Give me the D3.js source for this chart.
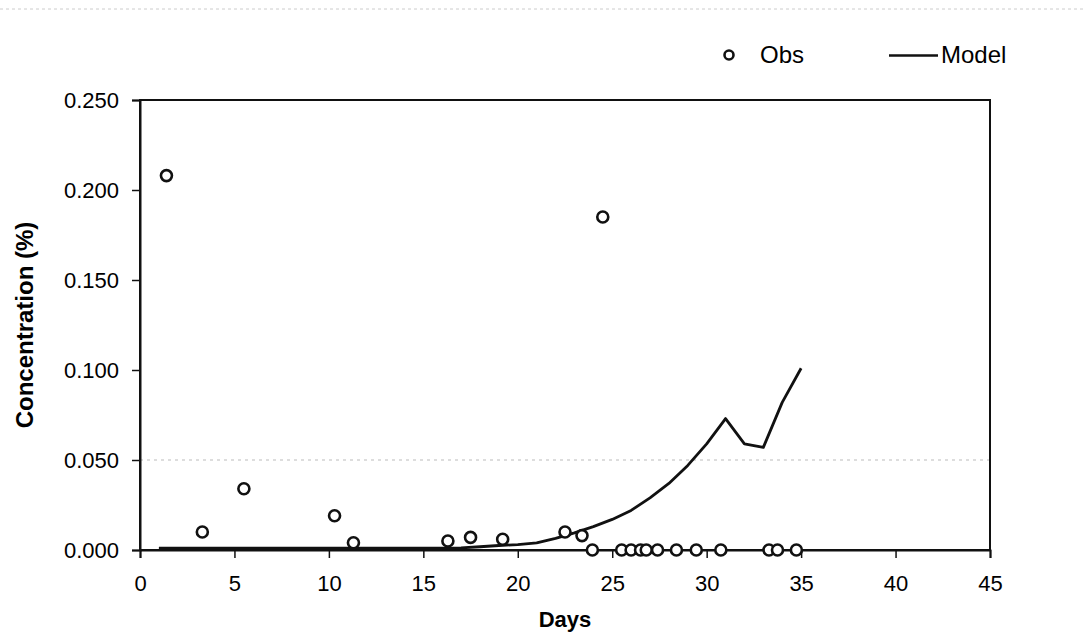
<!DOCTYPE html>
<html>
<head>
<meta charset="utf-8">
<script src="https://cdn.jsdelivr.net/npm/d3@7"></script>
<style>
  body { margin: 0; background: #fff; }
  svg text { font-family: Arial, "Liberation Sans", sans-serif; fill: #000; }
</style>
</head>
<body>
<div id="chart"></div>
<script>
// observed points (day, concentration %)
const obsDays = [1.4, 3.3, 5.5, 10.3, 11.3, 16.3, 17.5, 19.2, 22.5, 23.4, 24.5,
  23.95, 25.5, 26.0, 26.5, 26.8, 27.4, 28.4, 29.45, 30.75, 33.3, 33.75, 34.75];
const obsConc = [0.208, 0.010, 0.034, 0.019, 0.004, 0.005, 0.007, 0.006, 0.010, 0.008, 0.185,
  0, 0, 0, 0, 0, 0, 0, 0, 0, 0, 0, 0];

// model output, one value per day
const modelDays = [1, 2, 3, 4, 5, 6, 7, 8, 9, 10, 11, 12, 13, 14, 15, 16, 17, 18,
  19, 20, 21, 22, 23, 24, 25, 26, 27, 28, 29, 30, 31, 32, 33, 34, 35];
const modelConc = [0.001, 0.001, 0.001, 0.001, 0.001, 0.001, 0.001, 0.001, 0.001, 0.001,
  0.001, 0.001, 0.001, 0.001, 0.001, 0.001, 0.0012, 0.0018, 0.0025, 0.003, 0.004,
  0.0065, 0.0095, 0.013, 0.017, 0.022, 0.029, 0.037, 0.047, 0.059, 0.073, 0.059,
  0.057, 0.082, 0.101];

const xTicks = [0, 5, 10, 15, 20, 25, 30, 35, 40, 45];
const yTicks = [0, 0.05, 0.1, 0.15, 0.2, 0.25];

const width = 1084, height = 640;
const margin = {top: 100, right: 94, bottom: 90, left: 140};

const svg = d3.select('#chart').append('svg')
  .attr('width', width)
  .attr('height', height);

const x = d3.scaleLinear().domain([0, 45]).range([margin.left, width - margin.right]);
const y = d3.scaleLinear().domain([0, 0.25]).range([height - margin.bottom, margin.top]);

// faint scan line at the top
svg.append('line')
  .attr('x1', 0).attr('x2', width)
  .attr('y1', 9).attr('y2', 9)
  .attr('stroke', '#ccc')
  .attr('stroke-dasharray', '3,3');

// dotted gridline at 0.05
svg.append('line')
  .attr('x1', x(0)).attr('x2', x(45))
  .attr('y1', y(0.05)).attr('y2', y(0.05))
  .attr('stroke', '#bbb')
  .attr('stroke-dasharray', '3,4');

// plot frame
svg.append('rect')
  .attr('x', x(0)).attr('y', y(0.25))
  .attr('width', x(45) - x(0))
  .attr('height', y(0) - y(0.25))
  .attr('fill', 'none')
  .attr('stroke', '#111')
  .attr('stroke-width', 2);

const xAxis = g => g
  .attr('transform', `translate(0,${y(0)})`)
  .call(d3.axisBottom(x).tickValues(xTicks).tickSize(8).tickPadding(17).tickFormat(d3.format('d')))
  .call(g => g.select('.domain').attr('stroke', '#111').attr('stroke-width', 2))
  .call(g => g.selectAll('.tick line').attr('stroke', '#111').attr('stroke-width', 1.5))
  .call(g => g.selectAll('.tick text').attr('font-size', 22).attr('fill', '#000')
    .attr('font-family', 'Arial, "Liberation Sans", sans-serif'));

const yAxis = g => g
  .attr('transform', `translate(${x(0)},0)`)
  .call(d3.axisLeft(y).tickValues(yTicks).tickSize(8).tickPadding(13).tickFormat(d3.format('.3f')))
  .call(g => g.select('.domain').attr('stroke', '#111').attr('stroke-width', 2))
  .call(g => g.selectAll('.tick line').attr('stroke', '#111').attr('stroke-width', 1.5))
  .call(g => g.selectAll('.tick text').attr('font-size', 22).attr('fill', '#000')
    .attr('font-family', 'Arial, "Liberation Sans", sans-serif'));

svg.append('g').call(xAxis);
svg.append('g').call(yAxis);

// model line
const line = d3.line()
  .x((d, i) => x(modelDays[i]))
  .y(d => y(d));

svg.append('path')
  .datum(modelConc)
  .attr('d', line)
  .attr('fill', 'none')
  .attr('stroke', '#111')
  .attr('stroke-width', 2.8)
  .attr('stroke-linejoin', 'round');

// observations
svg.append('g')
  .selectAll('circle')
  .data(obsConc)
  .enter()
    .append('circle')
    .attr('cx', (d, i) => x(obsDays[i]))
    .attr('cy', d => y(d))
    .attr('r', 5.5)
    .attr('fill', '#fff')
    .attr('stroke', '#111')
    .attr('stroke-width', 2.6);

// axis titles
svg.append('text')
  .attr('x', (x(0) + x(45)) / 2)
  .attr('y', 627)
  .attr('text-anchor', 'middle')
  .attr('font-size', 22)
  .attr('font-weight', 'bold')
  .text('Days');

svg.append('text')
  .attr('transform', 'translate(33,325) rotate(-90)')
  .attr('text-anchor', 'middle')
  .attr('font-size', 24)
  .attr('font-weight', 'bold')
  .text('Concentration (%)');

// legend
const legend = svg.append('g');
legend.append('circle')
  .attr('cx', 729).attr('cy', 55).attr('r', 4.5)
  .attr('fill', '#fff').attr('stroke', '#111').attr('stroke-width', 2.6);
legend.append('text')
  .attr('x', 760).attr('y', 63)
  .attr('font-size', 24)
  .text('Obs');
legend.append('line')
  .attr('x1', 889).attr('x2', 938)
  .attr('y1', 55.5).attr('y2', 55.5)
  .attr('stroke', '#111').attr('stroke-width', 2.5);
legend.append('text')
  .attr('x', 941).attr('y', 63)
  .attr('font-size', 24)
  .text('Model');
</script>
</body>
</html>
